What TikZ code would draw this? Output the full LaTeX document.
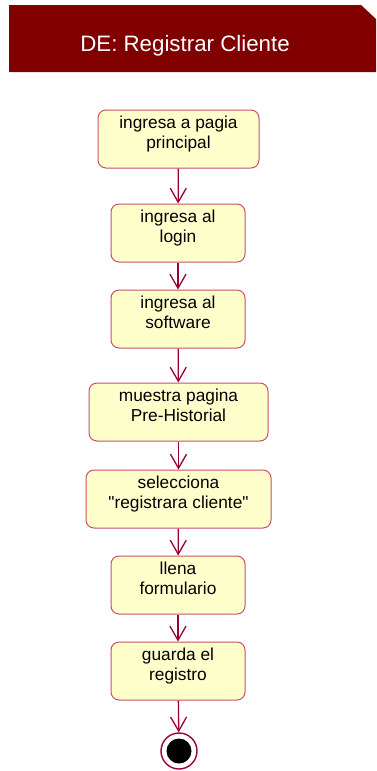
\documentclass[tikz,border=0pt]{standalone}
\usepackage{fontspec}
\setmainfont{Liberation Sans}[Ligatures=TeXOff]
\usetikzlibrary{arrows.meta}
\definecolor{hdr}{HTML}{800000}
\definecolor{actfill}{HTML}{FFFFCC}
\definecolor{actdraw}{HTML}{C85068}
\definecolor{flow}{HTML}{990033}
\tikzset{
  act/.style={draw=actdraw, fill=actfill, rounded corners=8pt, line width=1pt,
    minimum height=58pt, align=center, inner sep=2pt, text depth=13pt,
    font=\fontsize{17.3}{20}\selectfont},
  flowline/.style={draw=flow, line width=1.3pt, -{Straight Barb[length=14pt,width=16pt,line width=1.3pt]}}
}
\begin{document}
\begin{tikzpicture}[x=1pt,y=-1pt]
\useasboundingbox (0,0) rectangle (376,771);
\fill[hdr] (9,5) -- (361,5) -- (376,19) -- (376,72) -- (9,72) -- cycle;
\node[text=white, font=\fontsize{22.3}{26}\selectfont] (title) at (185,46) {DE: Registrar Cliente};
\node[act, minimum width=161pt] (a1) at (178.5,139) {ingresa a pagia\\principal};
\node[act, minimum width=134pt] (a2) at (178,233) {ingresa al\\login};
\node[act, minimum width=134pt] (a3) at (178,319) {ingresa al\\software};
\node[act, minimum width=179pt] (a4) at (178.5,412) {muestra pagina\\Pre-Historial};
\node[act, minimum width=185pt] (a5) at (178.5,499) {selecciona\\"registrara cliente"};
\node[act, minimum width=134pt] (a6) at (178,585) {llena\\formulario};
\node[act, minimum width=134pt] (a7) at (178,671) {guarda el\\registro};
\node[circle, draw=flow, line width=1.4pt, fill=white, minimum size=36pt, inner sep=0pt] (end) at (179,751) {};
\fill[black] (end.center) circle (12.5pt);
\draw[flowline] (a1) -- (a2);
\draw[flowline] (a2) -- (a3);
\draw[flowline] (a3) -- (a4);
\draw[flowline] (a4) -- (a5);
\draw[flowline] (a5) -- (a6);
\draw[flowline] (a6) -- (a7);
\draw[flowline] (a7) -- (end);
\end{tikzpicture}
\end{document}
